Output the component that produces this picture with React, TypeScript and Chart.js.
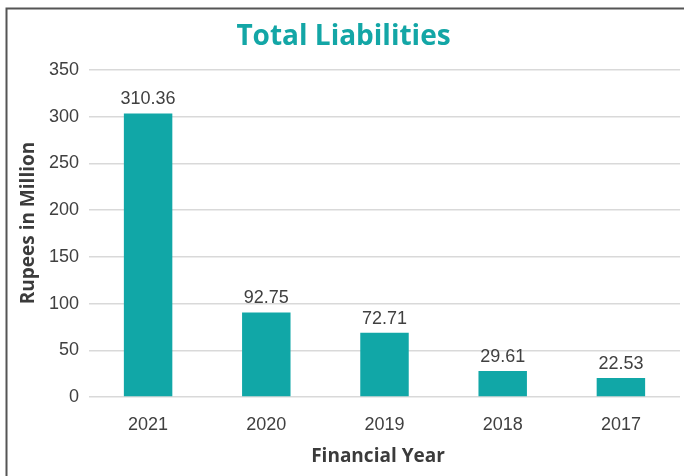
import React, { useEffect, useRef } from "react";
import { Chart, registerables } from "chart.js";

Chart.register(...registerables);

const categories = ["2021", "2020", "2019", "2018", "2017"];
const barValues = [303.5, 90.5, 68.7, 27.9, 20.4];
const valueLabels = ["310.36", "92.75", "72.71", "29.61", "22.53"];
const yMin = 0;
const yMax = 350;
const yStep = 50;
const chartTitle = "Total Liabilities";
const xTitle = "Financial Year";
const yTitle = "Rupees in Million";

const TEAL = "#11a7a7";
const TICK_FONT = '"Liberation Sans", Arial, Helvetica, sans-serif';
const TITLE_FONT = '"Open Sans", "Noto Sans", sans-serif';

const decor = {
  id: "decor",
  beforeDraw(chart: any) {
    const ctx = chart.ctx;
    ctx.save();
    ctx.fillStyle = "#ffffff";
    ctx.fillRect(0, 0, chart.width, chart.height);
    ctx.strokeStyle = "#555555";
    ctx.lineWidth = 2;
    ctx.beginPath();
    ctx.moveTo(6.5, chart.height);
    ctx.lineTo(6.5, 8.5);
    ctx.lineTo(chart.width, 8.5);
    ctx.stroke();
    ctx.restore();
  },
  afterDraw(chart: any) {
    const ctx = chart.ctx;
    ctx.save();
    const meta = chart.getDatasetMeta(0);
    ctx.font = `18px ${TICK_FONT}`;
    ctx.fillStyle = "#404040";
    ctx.textAlign = "center";
    ctx.textBaseline = "alphabetic";
    meta.data.forEach((el: any, i: number) => {
      ctx.fillText(valueLabels[i], el.x, el.y - 9);
    });
    ctx.font = `bold 28px ${TITLE_FONT}`;
    ctx.fillStyle = "#13a6a6";
    ctx.fillText(chartTitle, 343.5, 45);
    ctx.font = `bold 19px ${TITLE_FONT}`;
    ctx.fillStyle = "#3b3b3b";
    ctx.fillText(xTitle, 378, 462);
    ctx.translate(34, 223);
    ctx.rotate(-Math.PI / 2);
    ctx.fillText(yTitle, 0, 0);
    ctx.restore();
  },
};

export default function App() {
  const ref = useRef<HTMLCanvasElement>(null);
  useEffect(() => {
    if (!ref.current) return;
    const chart = new Chart(ref.current, {
      type: "bar",
      data: {
        labels: categories,
        datasets: [
          {
            data: barValues,
            backgroundColor: TEAL,
            barPercentage: 0.41,
            categoryPercentage: 1,
          },
        ],
      },
      options: {
        responsive: false,
        animation: false,
        devicePixelRatio: 1,
        layout: { padding: { top: 70, left: 0, right: 4, bottom: 0 } },
        plugins: { legend: { display: false }, tooltip: { enabled: false } },
        scales: {
          x: {
            grid: { display: false, drawTicks: false },
            border: { display: false },
            ticks: { font: { family: TICK_FONT, size: 18 }, color: "#404040", padding: 17 },
            afterFit: (s: any) => {
              s.height = 79;
            },
          },
          y: {
            min: yMin,
            max: yMax,
            ticks: { stepSize: yStep, font: { family: TICK_FONT, size: 18 }, color: "#404040", padding: 10 },
            grid: { color: "#d9d9d9", lineWidth: 1.5, drawTicks: false },
            border: { display: false },
            afterFit: (s: any) => {
              s.width = 89;
            },
          },
        },
      } as any,
      plugins: [decor],
    });
    return () => chart.destroy();
  }, []);
  return (
    <canvas
      ref={ref}
      width={684}
      height={476}
      style={{ position: "absolute", left: 0, top: 0, display: "block", width: 684, height: 476 }}
    />
  );
}
